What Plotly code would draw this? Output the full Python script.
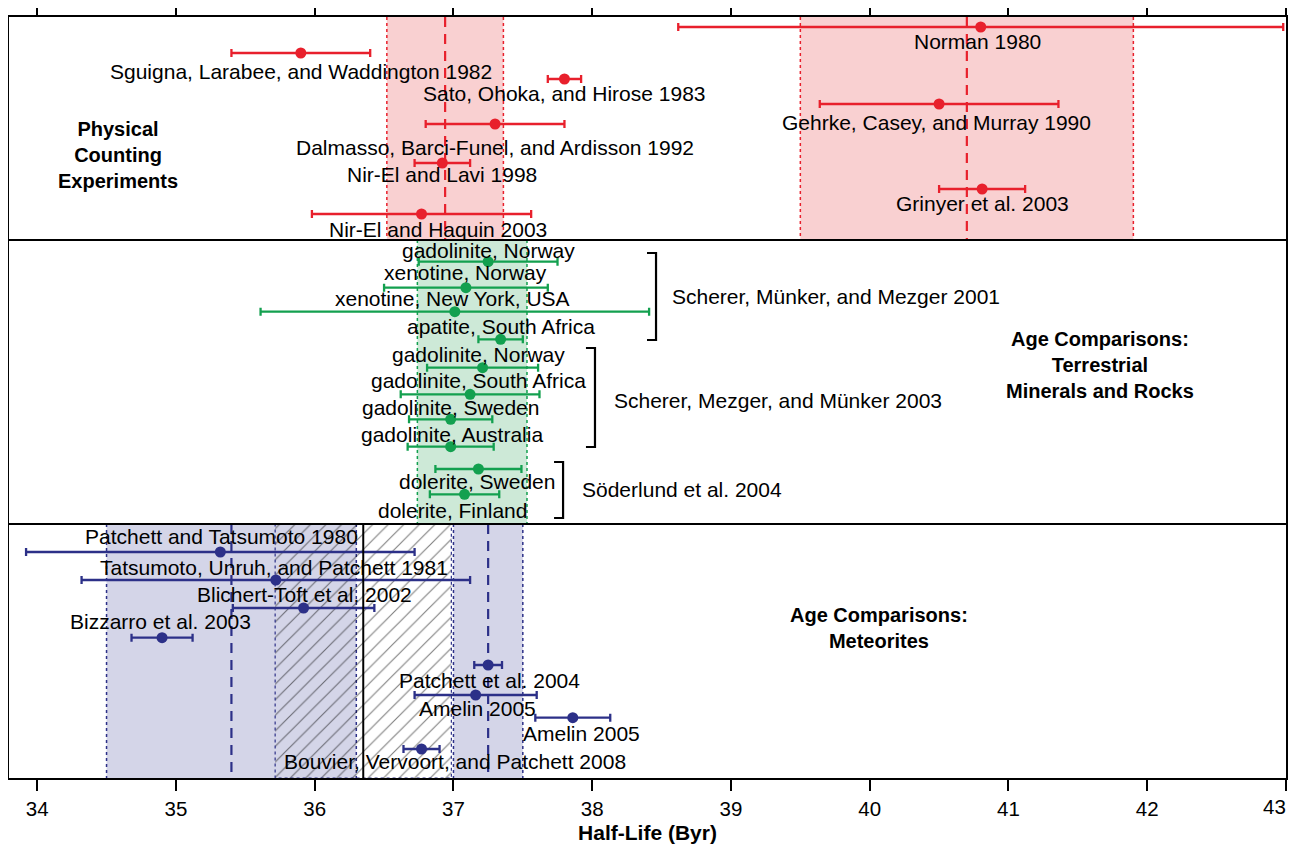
import plotly.graph_objects as go

# ---------------- data ----------------
phys_labels = ["Norman 1980", "Sguigna, Larabee, and Waddington 1982", "Sato, Ohoka, and Hirose 1983",
               "Gehrke, Casey, and Murray 1990", "Dalmasso, Barci-Funel, and Ardisson 1992",
               "Nir-El and Lavi 1998", "Grinyer et al. 2003", "Nir-El and Haquin 2003"]
phys_vals = [40.8, 35.9, 37.8, 40.5, 37.3, 36.92, 40.81, 36.77]
phys_errs = [2.18, 0.5, 0.12, 0.86, 0.5, 0.2, 0.31, 0.79]

terr_labels = ["gadolinite, Norway", "xenotine, Norway", "xenotine, New York, USA", "apatite, South Africa",
               "gadolinite, Norway", "gadolinite, South Africa", "gadolinite, Sweden", "gadolinite, Australia",
               "dolerite, Sweden", "dolerite, Finland"]
terr_vals = [37.25, 37.09, 37.01, 37.34, 37.21, 37.12, 36.98, 36.98, 37.18, 37.08]
terr_errs = [0.5, 0.59, 1.4, 0.16, 0.4, 0.5, 0.3, 0.31, 0.31, 0.25]
terr_groups = ["Scherer, Münker, and Mezger 2001", "Scherer, Mezger, and Münker 2003", "Söderlund et al. 2004"]

met_labels = ["Patchett and Tatsumoto 1980", "Tatsumoto, Unruh, and Patchett 1981", "Blichert-Toft et al. 2002",
              "Bizzarro et al. 2003", "Patchett et al. 2004", "Amelin 2005", "Amelin 2005",
              "Bouvier, Vervoort, and Patchett 2008"]
met_vals = [35.32, 35.72, 35.92, 34.90, 37.25, 37.16, 37.86, 36.77]
met_errs = [1.4, 1.4, 0.51, 0.22, 0.1, 0.44, 0.27, 0.13]

# summary bands: (center, half-width)
phys_band_c = [36.94, 40.70]
phys_band_hw = [0.42, 1.2]
terr_band_c = [37.135]
terr_band_hw = [0.395]
met_band_c = [35.40, 37.25]
met_band_hw = [0.9, 0.25]
met_hatch_c = 36.35
met_hatch_hw = 0.635

panel_titles = ["Physical<br>Counting<br>Experiments",
                "Age Comparisons:<br>Terrestrial<br>Minerals and Rocks",
                "Age Comparisons:<br>Meteorites"]
tick_vals = [34, 35, 36, 37, 38, 39, 40, 41, 42, 43]
tick_text = ["34", "35", "36", "37", "38", "39", "40", "41", "42", "43"]
x_title = "Half-Life (Byr)"

# ---------------- layout positions (vertical rows, label spots) ----------------
phys_rows = [27, 53, 79, 104, 124, 163, 189, 214]
phys_lab_x = [40.78, 35.90, 37.80, 40.48, 37.30, 36.92, 40.81, 36.89]
phys_lab_y = [41, 71, 93, 122, 147, 174, 203, 229]

terr_rows = [261.7, 287.7, 311.7, 339.3, 367.7, 394.3, 419.3, 446.7, 469, 494.3]
terr_lab_x = [37.25, 37.09, 36.99, 37.34, 37.18, 37.18, 36.98, 36.99, 37.17, 36.99]
terr_lab_y = [250, 272, 298, 326, 354, 380, 407, 434, 481, 510]

met_rows = [552, 580, 608, 637.7, 665, 695, 717.7, 749]
met_lab_x = [35.33, 35.71, 35.93, 34.89, 37.26, 37.17, 37.92, 37.01]
met_lab_y = [536, 567, 594, 621, 680, 708, 733, 761]

bracket_x = [38.46, 38.02, 37.79]
bracket_y = [(253, 340), (348, 447), (462, 518)]
bracket_lab_x = [38.56, 38.14, 37.91]
bracket_lab_y = [296, 400, 489]

Y_TOP, Y_BOT = 17, 778
panel_y = [(Y_TOP, 240), (240, 524), (524, Y_BOT)]
panel_title_x = [34.58, 41.66, 40.07]
panel_title_y = [155, 365, 628]
last_tick_label_y = 806.5

RED = "#e8202c"
GREEN = "#13a04f"
NAVY = "#2c3088"
PINK = "#f9d0d1"
LGREEN = "#cde9d7"
LAV = "#d4d5e8"
FONT = "Arial, Liberation Sans, sans-serif"
LABEL_SIZE = 21
TICK_SIZE = 20.5

fig = go.Figure()
shapes = []
annotations = []

def add_bands(centers, hws, y0, y1, fill, edge, dashed):
    for c, hw in zip(centers, hws):
        shapes.append(dict(type="rect", xref="x", yref="y", x0=c - hw, x1=c + hw, y0=y0, y1=y1,
                           fillcolor=fill, line=dict(width=0), layer="below"))
        for xe in (c - hw, c + hw):
            shapes.append(dict(type="line", xref="x", yref="y", x0=xe, x1=xe, y0=y0, y1=y1,
                               line=dict(color=edge, width=1.5, dash="dot"), layer="below"))
        if dashed:
            shapes.append(dict(type="line", xref="x", yref="y", x0=c, x1=c, y0=y0, y1=y1,
                               line=dict(color=edge, width=2.2, dash="10px,7px"), layer="above"))

add_bands(phys_band_c, phys_band_hw, *panel_y[0], PINK, RED, True)
add_bands(terr_band_c, terr_band_hw, *panel_y[1], LGREEN, GREEN, False)
add_bands(met_band_c, met_band_hw, *panel_y[2], LAV, NAVY, True)

# hatched meteorite band
hx0, hx1 = met_hatch_c - met_hatch_hw, met_hatch_c + met_hatch_hw
my0, my1 = panel_y[2]
fig.add_trace(go.Scatter(x=[hx0, hx1, hx1, hx0, hx0], y=[my0, my0, my1, my1, my0], mode="lines",
                         fill="toself", fillcolor="rgba(0,0,0,0)",
                         fillpattern=dict(shape="/", fgcolor="black", bgcolor="rgba(0,0,0,0)",
                                          size=11, solidity=0.1),
                         line=dict(color=NAVY, width=1.2, dash="dot"), hoverinfo="skip", showlegend=False))
shapes.append(dict(type="line", xref="x", yref="y", x0=met_hatch_c, x1=met_hatch_c, y0=my0, y1=my1,
                   line=dict(color="black", width=2), layer="above"))

# panel dividers
for yy in (panel_y[0][1], panel_y[1][1]):
    shapes.append(dict(type="line", xref="paper", yref="y", x0=0, x1=1, y0=yy, y1=yy,
                       line=dict(color="black", width=2.2), layer="above"))

def add_points(vals, errs, rows, color):
    fig.add_trace(go.Scatter(x=vals, y=rows, mode="markers", cliponaxis=False,
                             marker=dict(size=11, color=color),
                             error_x=dict(type="data", array=errs, color=color, thickness=2.3, width=4),
                             showlegend=False))

add_points(phys_vals, phys_errs, phys_rows, RED)
add_points(terr_vals, terr_errs, terr_rows, GREEN)
add_points(met_vals, met_errs, met_rows, NAVY)

def add_labels(labels, xs, ys):
    for t, x, y in zip(labels, xs, ys):
        annotations.append(dict(x=x, y=y, xref="x", yref="y", text=t, showarrow=False,
                                xanchor="center", yanchor="middle",
                                font=dict(family=FONT, size=LABEL_SIZE, color="black")))

add_labels(phys_labels, phys_lab_x, phys_lab_y)
add_labels(terr_labels, terr_lab_x, terr_lab_y)
add_labels(met_labels, met_lab_x, met_lab_y)

# brackets
for bx, (by0, by1), lx, ly, t in zip(bracket_x, bracket_y, bracket_lab_x, bracket_lab_y, terr_groups):
    tick = 0.065
    shapes.append(dict(type="path", xref="x", yref="y",
                       path=f"M {bx - tick} {by0} L {bx} {by0} L {bx} {by1} L {bx - tick} {by1}",
                       line=dict(color="black", width=2.2)))
    annotations.append(dict(x=lx, y=ly, xref="x", yref="y", text=t, showarrow=False,
                            xanchor="left", yanchor="middle",
                            font=dict(family=FONT, size=LABEL_SIZE, color="black")))

for t, x, y in zip(panel_titles, panel_title_x, panel_title_y):
    annotations.append(dict(x=x, y=y, xref="x", yref="y", text=f"<b>{t}</b>", showarrow=False,
                            xanchor="center", yanchor="middle", align="center",
                            font=dict(family=FONT, size=20, color="black")))

# the last tick label sits flush left of its tick, as in the reference
axis_text = tick_text[:-1] + [""]
annotations.append(dict(x=1, y=(Y_BOT - last_tick_label_y) / (Y_BOT - Y_TOP), xref="paper", yref="paper",
                        text=tick_text[-1], showarrow=False, xanchor="right", yanchor="middle", xshift=2,
                        font=dict(family=FONT, size=TICK_SIZE, color="black")))

# page body adds an 8px offset, so the figure is sized to fit inside the window
fig.update_layout(
    width=1289, height=837,
    margin=dict(l=1, r=11, t=9, b=67, autoexpand=False),
    plot_bgcolor="white", paper_bgcolor="white",
    shapes=shapes, annotations=annotations, showlegend=False,
    xaxis=dict(range=[33.797, 43.0], tickvals=tick_vals, ticktext=axis_text, ticks="outside",
               ticklen=11, tickwidth=2,
               tickcolor="black", showline=True, linecolor="black", linewidth=2.2, mirror="ticks",
               showgrid=False, zeroline=False, automargin=False,
               tickfont=dict(family=FONT, size=TICK_SIZE, color="black"),
               title=dict(text=f"<b>{x_title}</b>", font=dict(family=FONT, size=21, color="black"),
                          standoff=7)),
    yaxis=dict(range=[Y_BOT, Y_TOP], showticklabels=False, ticks="", showline=True, linecolor="black",
               linewidth=2.2, mirror=True, showgrid=False, zeroline=False, automargin=False),
)

fig.write_html("out.html")
